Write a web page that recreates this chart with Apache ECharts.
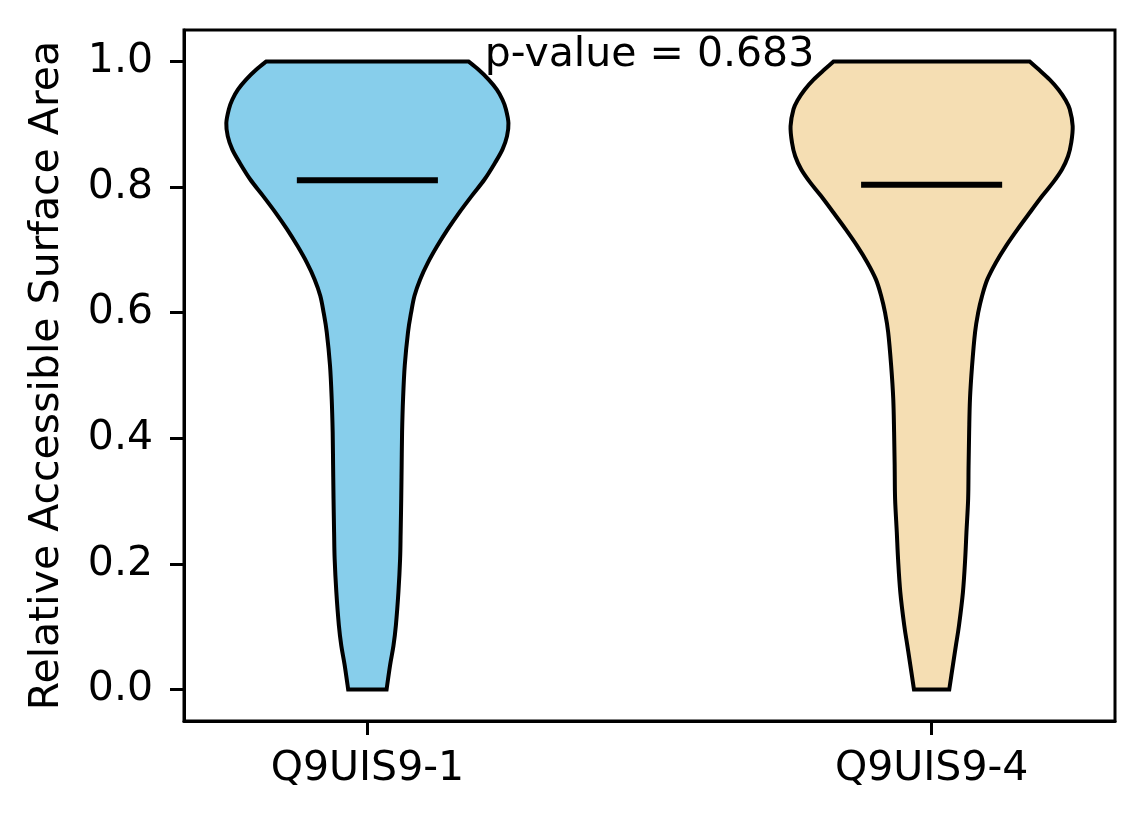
<!DOCTYPE html>
<html lang="en">
<head>
	<meta charset="UTF-8">
	<title>Violin plot</title>
	<style>
		body { margin: 0; background: #fff; }
	</style>
</head>
<body>
	<div id="main" style="width: 1144px;height: 824px"></div>

	<script src="https://cdn.jsdelivr.net/npm/echarts@6/dist/echarts.min.js"></script>
	<script type="text/javascript">

	// categories and their x positions
	var categories = ['Q9UIS9-1', 'Q9UIS9-4'];
	var positions = [1, 2];
	var yTicks = [0, 0.2, 0.4, 0.6, 0.8, 1.0];

	// violin outline: y levels and relative width (1 = widest point)
	var levels1 = [0.0, 0.039, 0.070, 0.102, 0.155, 0.208, 0.251, 0.304, 0.357, 0.410, 0.463, 0.516, 0.569, 0.600, 0.627, 0.653, 0.680, 0.706, 0.733, 0.759, 0.786, 0.812, 0.839, 0.860, 0.881, 0.902, 0.924, 0.939, 0.955, 0.971, 0.987, 1.0];
	var widths1 = [0.136, 0.161, 0.185, 0.202, 0.220, 0.232, 0.236, 0.240, 0.243, 0.246, 0.253, 0.265, 0.288, 0.310, 0.334, 0.374, 0.430, 0.495, 0.570, 0.650, 0.740, 0.830, 0.906, 0.958, 0.990, 1.0, 0.982, 0.958, 0.918, 0.860, 0.787, 0.716];

	var levels2 = [0.0, 0.039, 0.070, 0.102, 0.155, 0.208, 0.251, 0.304, 0.357, 0.410, 0.463, 0.516, 0.569, 0.600, 0.627, 0.653, 0.680, 0.706, 0.733, 0.759, 0.786, 0.807, 0.828, 0.849, 0.871, 0.897, 0.924, 0.939, 0.955, 0.971, 0.987, 1.0];
	var widths2 = [0.125, 0.151, 0.172, 0.194, 0.222, 0.238, 0.247, 0.259, 0.262, 0.266, 0.272, 0.287, 0.308, 0.330, 0.358, 0.395, 0.456, 0.527, 0.610, 0.695, 0.785, 0.860, 0.924, 0.967, 0.990, 1.0, 0.979, 0.948, 0.900, 0.837, 0.760, 0.695];

	var medians = [0.811, 0.8035];
	var pValue = 0.683;

	var fills = ['#87CEEB', '#F5DEB3'];
	var HALF = 0.25;   // max half width of a violin in x units
	var FONT = 'DejaVu Sans';

	var allLevels = [levels1, levels2];
	var allWidths = [widths1, widths2];

	// smooth curve through pixel points (catmull-rom as cubic bezier), no M
	function curveThrough(p) {
		var d = '';
		for (var k = 0; k < p.length - 1; k++) {
			var p0 = p[Math.max(k - 1, 0)], p1 = p[k], p2 = p[k + 1], p3 = p[Math.min(k + 2, p.length - 1)];
			var c1x = p1[0] + (p2[0] - p0[0]) / 6, c1y = p1[1] + (p2[1] - p0[1]) / 6;
			var c2x = p2[0] - (p3[0] - p1[0]) / 6, c2y = p2[1] - (p3[1] - p1[1]) / 6;
			d += ' C' + c1x + ' ' + c1y + ' ' + c2x + ' ' + c2y + ' ' + p2[0] + ' ' + p2[1];
		}
		return d;
	}

	function renderViolin(params, api) {
		var i = params.dataIndex;
		var pos = api.value(0);
		var lv = allLevels[i], wd = allWidths[i];
		var left = [], right = [];
		for (var k = 0; k < lv.length; k++) {
			left.push(api.coord([pos - wd[k] * HALF, lv[k]]));
		}
		for (var k = lv.length - 1; k >= 0; k--) {
			right.push(api.coord([pos + wd[k] * HALF, lv[k]]));
		}
		var d = 'M' + left[0][0] + ' ' + left[0][1] + curveThrough(left) +
			' L' + right[0][0] + ' ' + right[0][1] + curveThrough(right) + ' Z';
		var a = api.coord([pos - HALF / 2, medians[i]]);
		var b = api.coord([pos + HALF / 2, medians[i]]);
		return {
			type: 'group',
			children: [
				{
					type: 'path',
					shape: { pathData: d },
					style: { fill: fills[i], stroke: '#000', lineWidth: 4, lineJoin: 'miter' }
				},
				{
					type: 'line',
					shape: { x1: a[0], y1: a[1], x2: b[0], y2: b[1] },
					style: { stroke: '#000', lineWidth: 6 }
				}
			]
		};
	}

	function renderText(params, api) {
		var c = api.coord([api.value(0), api.value(1)]);
		return {
			type: 'text',
			x: c[0],
			y: c[1] + 14,
			style: {
				text: 'p-value = ' + pValue.toFixed(3),
				fontSize: 41,
				fontFamily: FONT,
				fill: '#000',
				align: 'center',
				verticalAlign: 'bottom'
			}
		};
	}

	var myChart = echarts.init(document.getElementById('main'));

	var option = {
		animation: false,
		backgroundColor: '#fff',
		grid: {
			left: 184, right: 29, top: 30, bottom: 103,
			show: true, borderColor: '#000', borderWidth: 3
		},
		xAxis: {
			type: 'value',
			min: 0.675,
			max: 2.325,
			splitLine: { show: false },
			axisLine: { show: true, onZero: false, lineStyle: { color: '#000', width: 3 } },
			axisTick: { show: true, customValues: positions, length: 14, lineStyle: { color: '#000', width: 3 } },
			axisLabel: {
				customValues: positions,
				margin: 28,
				fontSize: 41,
				fontFamily: FONT,
				color: '#000',
				formatter: function (v) { return categories[Math.round(v) - 1]; }
			}
		},
		yAxis: {
			type: 'value',
			min: -0.05,
			max: 1.05,
			name: 'Relative Accessible Surface Area',
			nameLocation: 'middle',
			nameGap: 116,
			nameTextStyle: { fontSize: 41, fontFamily: FONT, color: '#000' },
			splitLine: { show: false },
			axisLine: { show: true, onZero: false, lineStyle: { color: '#000', width: 3 } },
			axisTick: { show: true, customValues: yTicks, length: 14, lineStyle: { color: '#000', width: 3 } },
			axisLabel: {
				customValues: yTicks,
				margin: 31,
				fontSize: 41,
				fontFamily: FONT,
				color: '#000',
				formatter: function (v) { return v.toFixed(1); }
			}
		},
		series: [
			{
				type: 'custom',
				renderItem: renderViolin,
				data: positions.map(function (p) { return [p]; }),
				encode: { x: 0 }
			},
			{
				type: 'custom',
				renderItem: renderText,
				data: [[1.5, 1.0]],
				encode: { x: 0, y: 1 }
			}
		]
	};
	myChart.setOption(option);
	</script>
</body>
</html>
